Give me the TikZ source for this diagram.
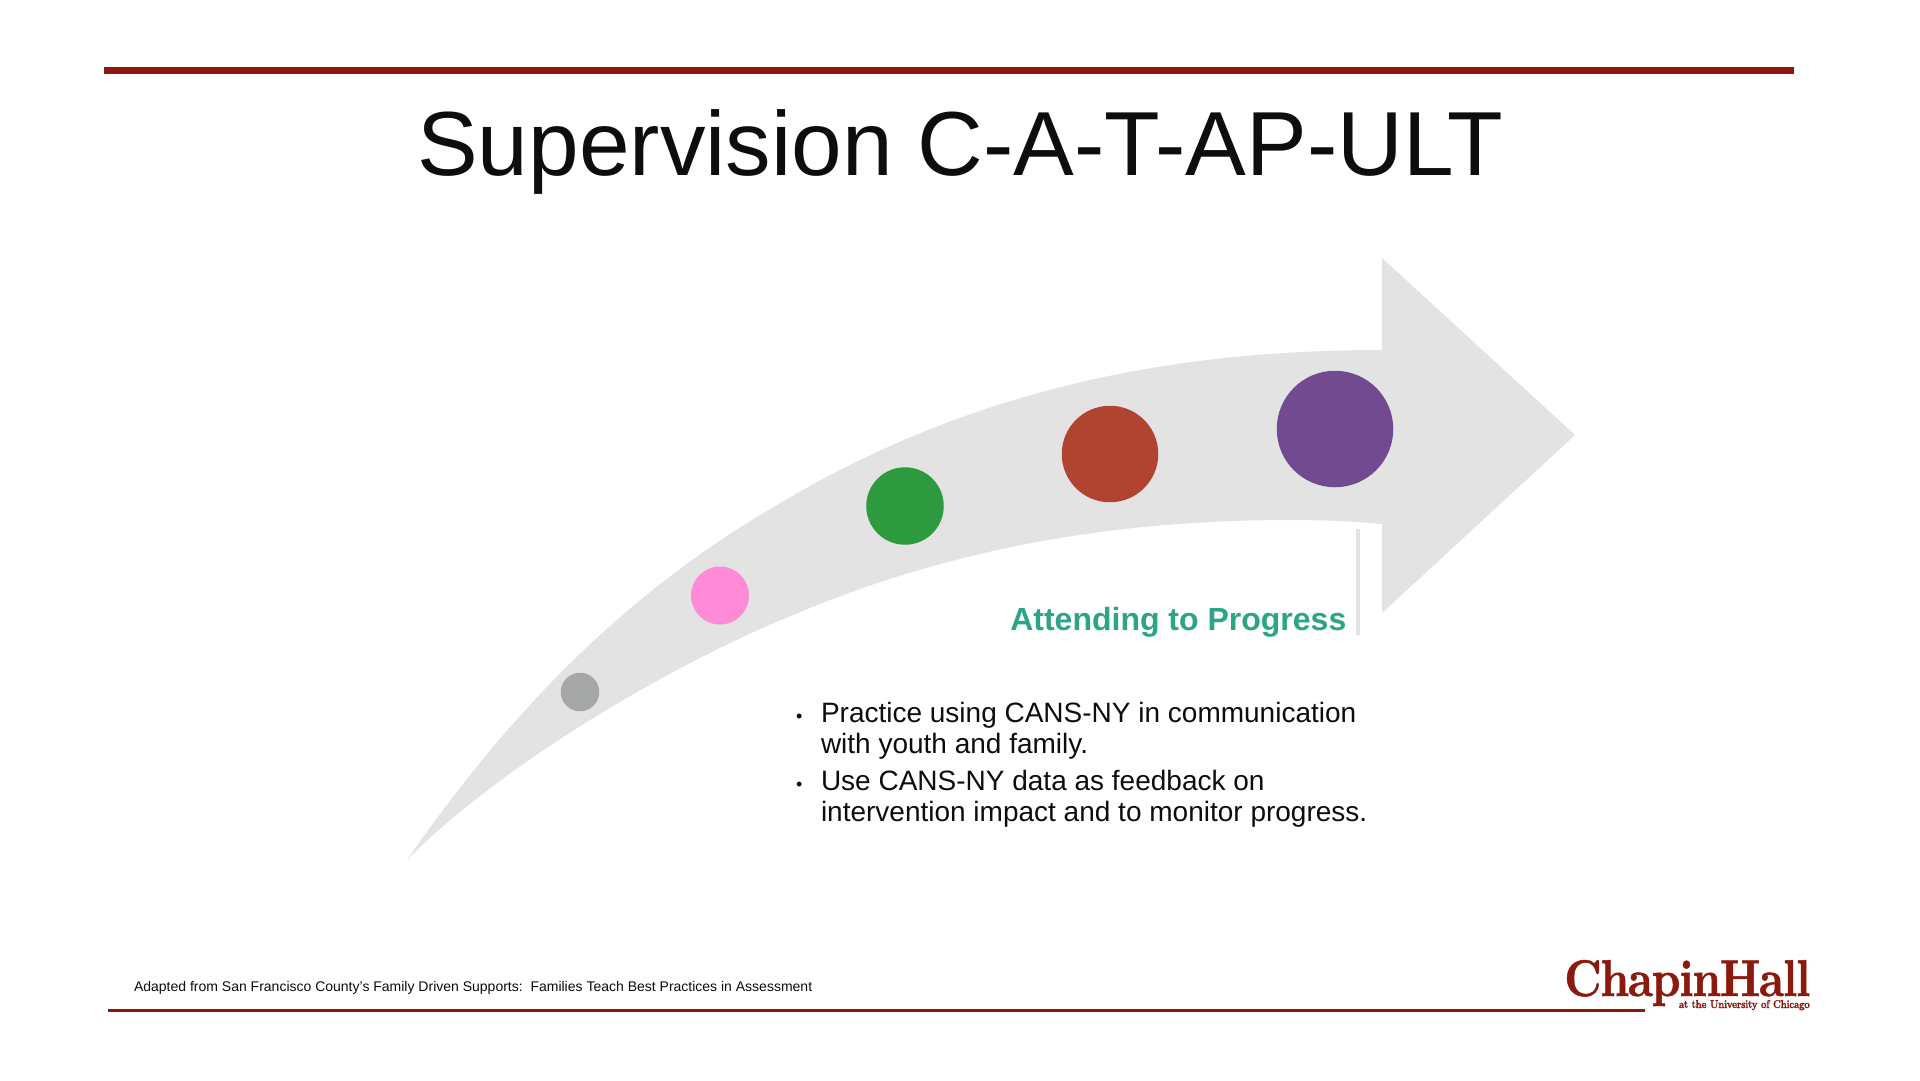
\documentclass[tikz,border=0pt]{standalone}
\usepackage{fontspec}
\usepackage{graphicx}
\setmainfont{Liberation Sans}
\newfontfamily\logofont[LetterSpace=-3,FakeBold=1]{Latin Modern Roman}
\definecolor{rule}{HTML}{8B1A0E}
\definecolor{shaft}{HTML}{E3E3E3}
\definecolor{teal}{HTML}{2BA585}
\tikzset{
  dot/.style={circle,inner sep=0pt,minimum size=#1,draw=none},
  txt/.style={inner sep=0pt,outer sep=0pt,anchor=base west,font=\fontsize{28}{34}\selectfont,text=black!95},
}
\begin{document}
\begin{tikzpicture}[x=1pt,y=-1pt]
\useasboundingbox (0,0) rectangle (1920,1080);
\fill[white] (0,0) rectangle (1920,1080);
% rules
\fill[rule] (104,67) rectangle (1794,74);
\fill[rule] (108,1008.5) rectangle (1645,1011.5);
% title
\node[inner sep=0pt,anchor=base,font=\fontsize{91}{100}\selectfont,text=black!95] (title) at (960,175) {Supervision C-A-T-AP-ULT};
% arrow
\fill[shaft] (407,860)
  .. controls (532,680) and (652,578) .. (777,505)
  .. controls (977,385) and (1182,350) .. (1382,350)
  -- (1382,258) -- (1575,435) -- (1382,613) -- (1382,524)
  .. controls (1350,521) and (1320,520) .. (1290,520)
  .. controls (1130,520) and (963,543) .. (793,615)
  .. controls (663,668) and (495,770) .. (407,860) -- cycle;
% dots
\node[dot=38.5pt,fill={rgb,255:red,165;green,168;blue,167}] (d1) at (580,692) {};
\node[dot=58pt,fill={rgb,255:red,255;green,138;blue,216}] (d2) at (720,595.5) {};
\node[dot=77.5pt,fill={rgb,255:red,46;green,154;blue,64}] (d3) at (905,506) {};
\node[dot=96.5pt,fill={rgb,255:red,176;green,68;blue,48}] (d4) at (1110,454) {};
\node[dot=116.5pt,fill={rgb,255:red,113;green,74;blue,144}] (d5) at (1335,429) {};
% heading
\fill[shaft] (1356,529) rectangle (1360,635);
\node[inner sep=0pt,anchor=base east,font=\fontsize{32}{38}\selectfont\bfseries,text=teal] (head) at (1346.5,630) {Attending to Progress};
% bullets
\node[txt] (b1) at (796,722) {\fontsize{18}{18}\selectfont •};
\node[txt] (l1) at (821,722) {Practice using CANS-NY in communication};
\node[txt] (l2) at (821,753) {with youth and family.};
\node[txt] (b2) at (796,790) {\fontsize{18}{18}\selectfont •};
\node[txt] (l3) at (821,790) {Use CANS-NY data as feedback on};
\node[txt] (l4) at (821,821) {intervention impact and to monitor progress.};
% footer
\node[txt,font=\fontsize{14}{17}\selectfont] (foot) at (134,991) {Adapted from San Francisco County's Family Driven Supports:\ \ Families Teach Best Practices in Assessment};
% logo
\node[inner sep=0pt,anchor=base west,text=rule] (logoa) at (1564,996) {\resizebox{246pt}{36pt}{\logofont\bfseries ChapinHall}};
\node[inner sep=0pt,anchor=base east,text=rule] (logob) at (1810,1008) {\resizebox{131pt}{8pt}{\logofont\bfseries at the University of Chicago}};
\end{tikzpicture}
\end{document}
